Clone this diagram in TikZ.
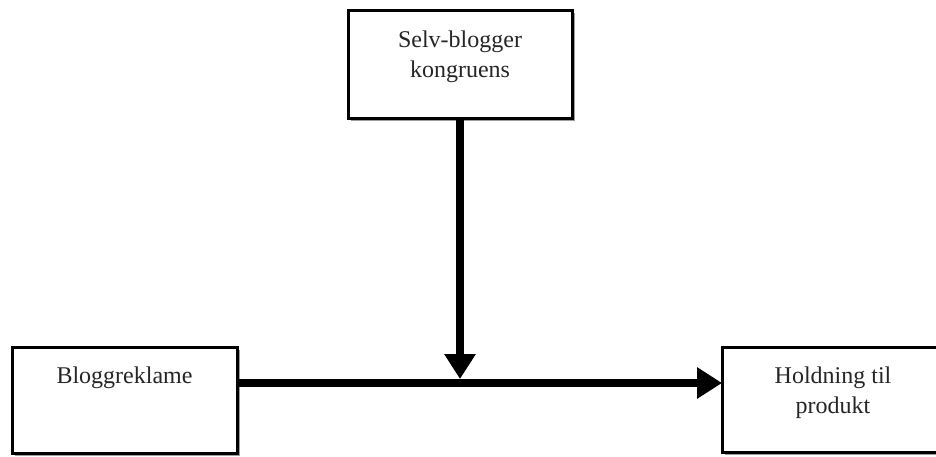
\documentclass[tikz,border=0pt]{standalone}
\usepackage{fontspec}
\setmainfont{Liberation Serif}
\usetikzlibrary{arrows.meta,shadows}
\begin{document}
\begin{tikzpicture}[x=1pt,y=-1pt,
  box/.style={draw=black,line width=3pt,fill=white,
    drop shadow={shadow xshift=3pt,shadow yshift=-3pt,opacity=0.55,fill=black!70},
    inner sep=0pt,outer sep=0pt},
  lbl/.style={font=\fontsize{24}{30}\selectfont,align=center,text=black!85,inner sep=0pt},
  conn/.style={line width=8pt,-{Triangle[length=25pt,width=30pt]}}]
\useasboundingbox (0,0) rectangle (936,456);
\node[box,minimum width=224pt,minimum height=108pt] (top) at (460,64) {};
\node[box,minimum width=225pt,minimum height=106pt] (left) at (124.5,400) {};
\node[box,minimum width=222pt,minimum height=105pt] (right) at (833,399.5) {};
\node[lbl] (toptext) at ([yshift=-47pt]top.north) {Selv-blogger\\kongruens};
\node[lbl] (lefttext) at ([yshift=-31pt]left.north) {Bloggreklame};
\node[lbl] (righttext) at ([yshift=-45.5pt]right.north) {Holdning til\\produkt};
\coordinate (meet) at (460,379);
\draw[conn] (left.east |- 0,383) -- (right.west |- 0,383);
\draw[conn] (top.south) -- (meet);
\end{tikzpicture}
\end{document}
